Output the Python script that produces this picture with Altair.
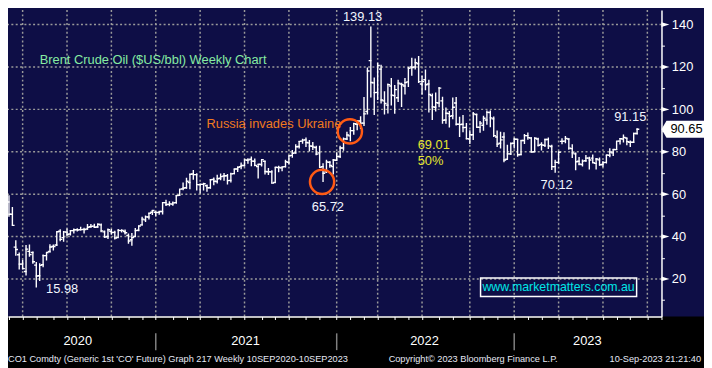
import altair as alt
import pandas as pd

# ---------------- data ----------------
weeks = pd.date_range("2020-02-14", periods=187, freq="7D").strftime("%Y-%m-%d").tolist()

opens = [
    54.5, 57.5, 56.3, 50.5, 35.0, 31.4, 27.0, 23.5, 33.0, 32.5, 26.5, 21.5, 26.7, 31.0, 33.0, 35.3,
    36.0, 42.5, 39.5, 42.1, 41.2, 42.8, 43.3, 43.3, 43.4, 43.6, 44.6, 44.9, 44.5, 45.5, 42.2, 40.0,
    42.5, 42.0, 39.5, 42.8, 42.4, 40.5, 38.5, 40.0, 43.0, 45.5, 47.9, 49.2, 51.5, 51.5, 51.4,
    51.8, 56.0, 55.2, 55.3, 56.0, 59.5, 62.5, 63.0, 65.5, 69.5, 69.2, 64.5, 64.6, 64.0, 63.0, 67.0,
    66.0, 67.5, 68.5, 68.7, 66.5, 69.7, 71.9, 73.0, 73.5, 76.0, 76.5, 75.5, 73.0, 74.0, 75.5, 70.6,
    70.5, 65.5, 72.5, 72.4, 73.0, 75.0, 78.3, 79.5, 82.5, 85.0, 85.6, 84.2, 82.6, 82.0, 79.5, 73.0,
    70.5, 75.0, 73.0, 76.0,
    77.8, 81.8, 86.0, 87.5, 90.0, 93.0, 94.5, 93.5, 99.0, 123.0, 112.5, 108.0, 119.0, 104.0, 102.0,
    111.0, 106.5, 105.5, 112.0, 111.0, 113.0, 120.0, 120.0, 121.5, 112.0, 114.0, 112.0, 106.5, 101.0,
    103.0, 104.0, 95.0, 98.0, 97.0, 103.0, 93.0, 93.0, 91.5, 86.0, 88.0, 97.5, 91.5, 92.5, 95.0, 98.5,
    95.5, 87.0, 84.0, 87.0, 76.5, 79.0, 84.0,
    85.9, 78.7, 85.3, 87.6, 86.5, 80.0, 86.0, 83.5, 83.0, 85.8, 82.5, 73.0, 75.0, 84.9, 85.0, 86.0,
    81.5, 79.0, 75.5, 74.0, 75.8, 77.0, 77.0, 74.5, 76.2, 74.0, 75.0, 78.3, 79.5, 81.0, 85.0, 86.0,
    86.5, 84.5, 84.5, 88.6,
]
highs = [
    57.3, 59.8, 59.5, 53.9, 38.3, 32.5, 28.9, 36.0, 36.3, 33.0, 28.0, 27.4, 31.5, 32.5, 36.4, 36.2,
    42.4, 43.4, 42.6, 43.8, 43.1, 43.8, 43.9, 44.6, 44.1, 45.9, 45.9, 46.0, 46.2, 46.2, 42.9, 43.8,
    43.6, 42.8, 43.6, 43.5, 43.3, 41.5, 41.7, 44.0, 45.2, 49.3, 49.9, 51.2, 52.5, 52.0, 51.9,
    56.3, 57.4, 56.7, 56.5, 59.5, 62.4, 65.5, 67.7, 69.6, 71.4, 69.9, 65.0, 65.4, 64.6, 67.2, 67.9,
    69.2, 69.8, 70.0, 69.5, 70.1, 72.0, 73.1, 74.9, 76.3, 76.9, 77.8, 76.8, 74.2, 76.4, 75.8, 72.3,
    71.3, 72.7, 73.4, 73.0, 76.2, 78.1, 80.8, 83.5, 85.1, 86.1, 86.7, 85.6, 84.6, 82.9, 82.8, 74.6,
    76.2, 75.6, 76.6, 79.8,
    82.8, 86.7, 89.5, 91.7, 93.7, 95.0, 96.8, 105.8, 119.8, 139.13, 115.0, 122.0, 121.0, 108.5, 112.2,
    114.8, 111.5, 114.0, 112.6, 114.8, 120.0, 124.4, 124.0, 125.2, 115.9, 118.8, 114.0, 107.5, 108.0,
    110.5, 106.0, 100.9, 99.2, 105.6, 105.8, 96.5, 97.4, 93.6, 90.1, 98.8, 98.1, 94.5, 97.0, 99.5, 99.5,
    96.6, 90.0, 89.4, 89.2, 83.3, 84.4, 86.6,
    86.0, 85.4, 88.4, 89.1, 86.9, 86.8, 86.6, 84.5, 86.2, 86.7, 83.3, 76.2, 80.2, 86.4, 87.5, 86.4,
    83.5, 79.6, 77.5, 76.4, 78.5, 77.6, 78.7, 77.1, 77.3, 75.7, 78.5, 81.7, 81.3, 85.1, 86.5, 88.1,
    86.5, 85.3, 89.0, 91.15,
]
lows = [
    53.1, 56.5, 49.4, 45.2, 31.0, 24.5, 24.5, 21.6, 30.5, 27.2, 15.98, 19.0, 25.5, 28.7, 32.4, 33.4,
    35.5, 37.8, 37.6, 40.1, 40.5, 41.5, 42.4, 42.9, 41.5, 43.2, 44.1, 44.1, 44.2, 42.0, 39.4, 38.9,
    40.9, 38.6, 39.4, 41.9, 41.0, 36.6, 35.7, 39.8, 42.5, 45.2, 46.9, 48.1, 50.2, 49.5, 50.3,
    50.4, 54.4, 54.3, 54.5, 55.5, 59.3, 61.8, 62.5, 62.3, 66.8, 61.7, 60.3, 61.7, 61.1, 62.6, 64.2,
    65.0, 66.6, 66.3, 64.6, 65.5, 69.4, 70.4, 71.8, 73.1, 74.3, 73.2, 73.2, 67.4, 73.0, 69.3, 69.0,
    65.0, 65.3, 70.3, 70.8, 72.6, 74.0, 77.2, 79.1, 81.5, 83.8, 82.3, 80.1, 80.8, 78.4, 72.5, 65.72,
    70.0, 72.5, 69.3, 75.6,
    77.1, 80.5, 85.5, 85.0, 88.0, 90.1, 90.8, 92.1, 97.6, 105.6, 97.4, 104.4, 102.8, 97.6, 98.1,
    101.8, 97.9, 103.5, 101.1, 107.0, 110.5, 115.9, 118.8, 112.5, 107.0, 109.0, 98.5, 95.0, 99.0,
    101.0, 93.2, 93.2, 91.5, 95.3, 92.4, 87.0, 89.2, 85.8, 83.7, 85.5, 91.5, 89.0, 89.9, 92.8, 91.6,
    87.0, 82.3, 81.6, 75.1, 76.3, 78.5, 81.6,
    77.6, 78.4, 83.7, 85.7, 79.7, 79.9, 82.5, 80.6, 82.3, 81.3, 71.4, 70.12, 74.4, 83.6, 84.0, 80.9,
    77.1, 71.3, 73.7, 73.0, 75.2, 71.6, 74.7, 71.6, 73.4, 72.7, 74.5, 77.4, 78.0, 80.8, 83.4, 84.4,
    83.1, 82.2, 84.1, 88.1,
]
closes = [
    57.3, 58.5, 50.5, 45.3, 33.9, 27.0, 24.9, 34.1, 31.5, 28.1, 21.4, 26.4, 31.0, 32.5, 35.1, 35.3,
    42.3, 38.7, 42.2, 41.0, 42.8, 43.2, 43.1, 43.3, 43.3, 44.4, 44.8, 44.4, 45.8, 42.7, 39.8, 43.2,
    41.9, 39.3, 42.9, 42.9, 41.8, 37.9, 39.5, 42.8, 45.0, 48.2, 49.3, 51.0, 52.3, 51.3, 51.8,
    56.0, 55.1, 55.4, 55.9, 59.3, 62.4, 62.9, 66.1, 69.4, 69.2, 64.5, 64.6, 64.9, 63.0, 66.8, 66.1,
    67.3, 68.3, 68.7, 66.4, 69.6, 71.9, 72.7, 73.5, 76.2, 76.2, 75.6, 73.6, 74.1, 76.3, 70.7, 70.6,
    65.2, 72.7, 72.6, 72.9, 75.3, 78.1, 79.3, 82.4, 84.9, 85.5, 84.4, 82.7, 82.2, 78.9, 72.7, 69.9,
    75.2, 73.5, 76.1, 77.8,
    81.8, 86.1, 87.9, 90.0, 93.3, 94.4, 93.5, 97.9, 118.1, 112.7, 107.9, 120.7, 104.4, 102.8, 111.7,
    106.7, 109.3, 112.4, 111.6, 112.6, 119.4, 119.7, 122.0, 113.1, 113.1, 111.6, 107.0, 101.2, 103.2,
    110.0, 94.9, 98.2, 96.7, 101.0, 93.0, 92.8, 91.4, 86.2, 88.0, 97.9, 91.6, 93.5, 95.8, 98.6, 96.0,
    87.6, 83.6, 85.6, 76.1, 79.0, 83.9, 85.9,
    78.6, 85.3, 87.6, 86.7, 79.9, 86.4, 83.0, 83.2, 85.8, 82.8, 73.0, 75.0, 79.8, 84.9, 86.3, 81.7,
    79.5, 75.3, 74.2, 75.6, 77.0, 76.1, 74.8, 76.6, 73.9, 74.9, 78.5, 79.9, 81.1, 85.0, 86.2, 86.8,
    84.8, 84.5, 88.6, 90.65,
]

y_levels = [20, 40, 60, 80, 100, 120, 140]
y_tick_values = [10, 20, 30, 40, 50, 60, 70, 80, 90, 100, 110, 120, 130, 140]
year_labels = ["2020", "2021", "2022", "2023"]
year_label_dates = ["2020-07-18", "2021-06-27", "2022-06-29", "2023-05-29"]

center_text = ["139.13", "91.15", "65.72", "15.98", "70.12"]
center_date = ["2022-02-22", "2023-08-25", "2021-12-13", "2020-06-16", "2023-03-27"]
center_val = [143.4, 96.3, 53.9, 15.2, 64.4]

left_text = ["69.01", "50%", "Russia invades Ukraine", "Brent Crude Oil ($US/bbl) Weekly Chart"]
left_date = ["2022-06-15", "2022-06-15", "2021-04-08", "2020-05-01"]
left_val = [83.3, 75.6, 93.2, 123.5]
left_color = ["#e6e62e", "#e6e62e", "#f07a1e", "#86eba2"]

circle_date = ["2021-12-01", "2022-01-27"]
circle_val = [65.8, 89.6]

last_price = [90.65]
footer_left = "CO1 Comdty (Generic 1st 'CO' Future) Graph 217  Weekly 10SEP2020-10SEP2023"
footer_mid = "Copyright\u00a9 2023 Bloomberg Finance L.P."
footer_right = "10-Sep-2023 21:21:40"
site = "www.marketmatters.com.au"

# weekly bar calendar (incl. weeks after the last bar) -> period-end bars for ticks/grid
cal = pd.Series(pd.date_range("2020-02-14", "2023-10-27", freq="W-FRI"))
month_end_bars = cal.groupby([cal.dt.year, cal.dt.month]).max()
month_end_bars = month_end_bars[month_end_bars >= pd.Timestamp("2020-02-20")]
quarter_end_bars = [d.strftime("%Y-%m-%d") for d in month_end_bars if d.month in (3, 6, 9, 12)]
year_end_bars = [d.strftime("%Y-%m-%d") for d in month_end_bars if d.month == 12]
month_ticks = [alt.DateTime(year=d.year, month=d.month, date=d.day, utc=True) for d in month_end_bars]

# ---------------- styling ----------------
NAVY = "#0e0e46"
GRID = "#9a9a9a"
FONT = "Liberation Sans, Arial, sans-serif"
W, H = 661, 310

xscale = alt.Scale(domain=[alt.DateTime(year=2020, month=2, date=26, utc=True),
                           alt.DateTime(year=2023, month=10, date=28, utc=True)], nice=False)
yscale = alt.Scale(domain=[2.28, 146.86], nice=False, zero=False)

xaxis = alt.Axis(values=month_ticks, labels=False, tickSize=3, tickColor="white", tickWidth=1,
                 domainColor="white", domainWidth=1.5, grid=False, title="", zindex=1)
yaxis = alt.Axis(orient="right", values=y_tick_values,
                 labelExpr="datum.value % 20 == 0 ? datum.label : ''",
                 tickSize=3, tickColor="white", tickWidth=1, domainColor="white", domainWidth=1.5,
                 labelColor="white", labelFont=FONT, labelFontSize=13, labelPadding=7,
                 labelOverlap=False, grid=False, title="", zindex=1)


def X(f="d"):
    return alt.X(f"{f}:T", scale=xscale, axis=xaxis)


def Y(f="v"):
    return alt.Y(f"{f}:Q", scale=yscale, axis=yaxis)


df = pd.DataFrame({"d": weeks, "o": opens, "h": highs, "l": lows, "c": closes})
one = pd.DataFrame({"k": [0]})

band = alt.Chart(one).mark_rect(color="black").encode(
    x=alt.value(-10), x2=alt.value(W + 60), y=alt.value(H), y2=alt.value(H + 60))

hgrid = alt.Chart(pd.DataFrame({"v": y_levels})).mark_rule(
    color=GRID, strokeWidth=1.5, strokeDash=[2, 2.4]).encode(y=Y("v"))
vgrid = alt.Chart(pd.DataFrame({"d": quarter_end_bars})).mark_rule(
    color=GRID, strokeWidth=1.5, strokeDash=[2, 2.4]).encode(x=X("d"))

hl = alt.Chart(df).mark_rule(color="white", strokeWidth=1.4, clip=True).encode(
    x=X("d"), y=Y("l"), y2="h")
op = alt.Chart(df).mark_rule(color="white", strokeWidth=1.4, xOffset=-2.2, x2Offset=0.6, clip=True).encode(
    x=X("d"), x2="d", y=Y("o"))
cl = alt.Chart(df).mark_rule(color="white", strokeWidth=1.4, xOffset=-0.6, x2Offset=2.2, clip=True).encode(
    x=X("d"), x2="d", y=Y("c"))

circles = alt.Chart(pd.DataFrame({"d": circle_date, "v": circle_val})).mark_point(
    shape="circle", filled=False, stroke="#ff5a14", strokeWidth=2.5, size=600, opacity=1).encode(
    x=X("d"), y=Y("v"))

ctext = alt.Chart(pd.DataFrame({"d": center_date, "v": center_val, "t": center_text})).mark_text(
    font=FONT, fontSize=13, color="#f2f6ff", align="center", baseline="middle").encode(
    x=X("d"), y=Y("v"), text="t:N")
ltext = alt.Chart(pd.DataFrame({"d": left_date, "v": left_val, "t": left_text, "col": left_color})).mark_text(
    font=FONT, fontSize=13, align="left", baseline="middle").encode(
    x=X("d"), y=Y("v"), text="t:N", color=alt.Color("col:N", scale=None))

sitebox = alt.Chart(pd.DataFrame({"d": ["2022-10-22"], "d2": ["2023-09-07"], "v": [20.4], "v2": [11.7]})).mark_rect(
    fillOpacity=0, stroke="white", strokeWidth=1.5).encode(x=X("d"), x2="d2", y=Y("v"), y2="v2")
sitetext = alt.Chart(pd.DataFrame({"d": ["2023-03-31"], "v": [16.2], "t": [site]})).mark_text(
    font=FONT, fontSize=12.5, color="#00e6e6", align="center", baseline="middle").encode(
    x=X("d"), y=Y("v"), text="t:N")

tri = alt.Chart(pd.DataFrame({"v": y_levels})).mark_point(
    shape="M-1,-0.6L1,0L-1,0.6Z", filled=True, color="white", size=64, opacity=1).encode(
    x=alt.value(W + 4), y=Y("v"))

tag = alt.Chart(pd.DataFrame({"v": last_price})).mark_point(
    shape="M-1,0L-0.77,-0.39L1,-0.39L1,0.39L-0.77,0.39Z", filled=True, color="white",
    size=44 * 44, opacity=1).encode(x=alt.value(W + 22), y=Y("v"))
tagtext = alt.Chart(pd.DataFrame({"v": last_price, "t": ["90.65"]})).mark_text(
    font=FONT, fontSize=13, color="black", align="left", baseline="middle").encode(
    x=alt.value(W + 9), y=Y("v"), text="t:N")

years = alt.Chart(pd.DataFrame({"d": year_label_dates, "t": year_labels})).mark_text(
    font=FONT, fontSize=13, color="white", align="center", baseline="middle").encode(
    x=X("d"), y=alt.value(H + 25), text="t:N")
breaks = alt.Chart(pd.DataFrame({"d": year_end_bars})).mark_rule(color="#808080", strokeWidth=1.5).encode(
    x=X("d"), y=alt.value(H + 17), y2=alt.value(H + 34))

FOOT_FONT = "Liberation Sans, Arial, sans-serif"
foot = alt.Chart(pd.DataFrame({"t": [footer_left]})).mark_text(
    font=FOOT_FONT, fontSize=9.3, color="#e6e9f5", align="left", baseline="middle").encode(
    x=alt.value(0), y=alt.value(H + 43), text="t:N")
foot2 = alt.Chart(pd.DataFrame({"t": [footer_mid]})).mark_text(
    font=FOOT_FONT, fontSize=9.3, color="#e6e9f5", align="left", baseline="middle").encode(
    x=alt.value(385), y=alt.value(H + 43), text="t:N")
foot3 = alt.Chart(pd.DataFrame({"t": [footer_right]})).mark_text(
    font=FOOT_FONT, fontSize=9.3, color="#e6e9f5", align="right", baseline="middle").encode(
    x=alt.value(701), y=alt.value(H + 43), text="t:N")

chart = alt.layer(
    band, hgrid, vgrid, hl, op, cl, circles, ctext, ltext, sitebox, sitetext,
    tri, tag, tagtext, years, breaks, foot, foot2, foot3
).properties(
    width=W, height=H, background=NAVY,
    autosize=alt.AutoSizeParams(type="none"),
    padding={"left": 0, "top": 0, "right": 43, "bottom": 50},
).configure_view(fill=NAVY, strokeWidth=0)

chart.save("out.html", embed_options={"renderer": "svg", "actions": False})
